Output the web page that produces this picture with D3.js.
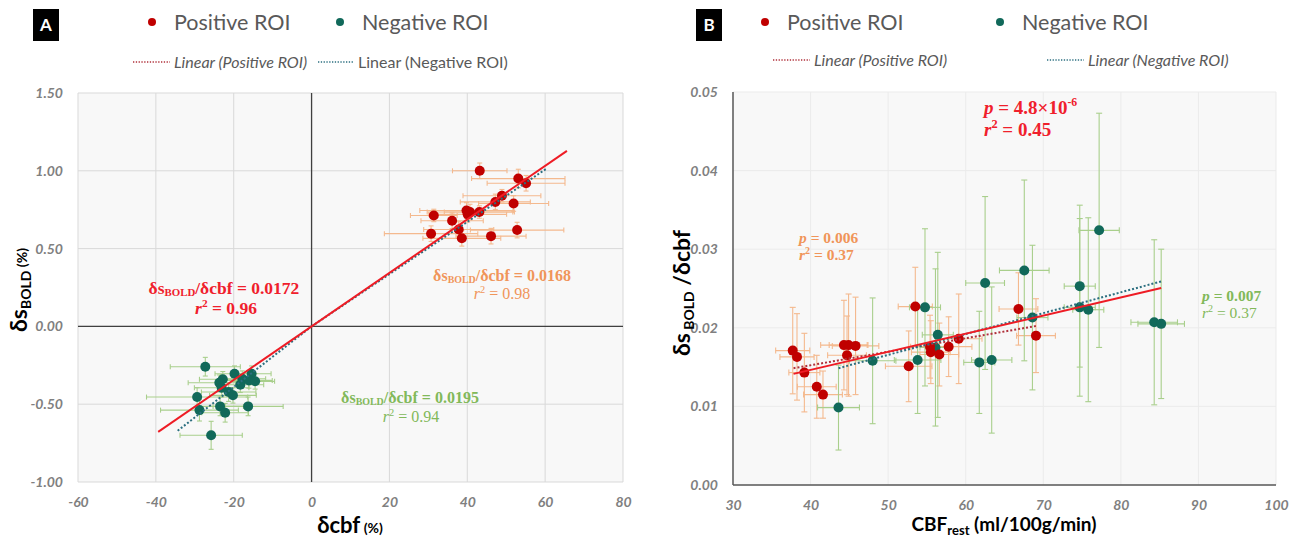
<!DOCTYPE html>
<html><head><meta charset="utf-8">
<script src="https://cdn.jsdelivr.net/npm/d3@7"></script>
<style>body{margin:0;background:#fff;} svg{display:block;}</style>
</head><body>
<svg id="c" width="1298" height="541"></svg>
<script>
// ---------- Panel A data ----------
const posA_x    = [43.2, 53.1, 55.1, 48.9, 47.2, 51.9, 39.8, 40.7, 43.1, 40.1, 31.4, 36.1, 37.8, 30.7, 52.8, 46.1, 38.6];
const posA_y    = [1.00, 0.95, 0.92, 0.84, 0.80, 0.79, 0.745, 0.735, 0.735, 0.72, 0.713, 0.679, 0.623, 0.596, 0.619, 0.58, 0.566];
const posA_xerr = [7, 12, 10, 10, 9, 9, 12, 11, 9, 10, 6, 8, 9, 12, 12, 9, 10];
const posA_yerr = [0.05, 0.06, 0.05, 0.04, 0.05, 0.05, 0.05, 0.05, 0.04, 0.05, 0.04, 0.05, 0.05, 0.05, 0.05, 0.05, 0.05];
const negA_x    = [-27.3, -19.8, -15.4, -22.8, -17.8, -16.1, -14.5, -23.7, -18.3, -23.1, -21.3, -20.2, -29.4, -28.8, -23.5, -16.3, -22.2, -25.8];
const negA_y    = [-0.259, -0.304, -0.304, -0.34, -0.336, -0.347, -0.353, -0.362, -0.375, -0.394, -0.422, -0.443, -0.454, -0.538, -0.514, -0.514, -0.555, -0.70];
const negA_xerr = [9, 5, 5, 6, 6, 6, 5, 8, 6, 7, 7, 6, 13, 10, 6, 9, 6, 8];
const negA_yerr = [0.06, 0.05, 0.05, 0.05, 0.05, 0.05, 0.05, 0.05, 0.05, 0.06, 0.06, 0.05, 0.06, 0.07, 0.06, 0.06, 0.06, 0.09];
const fitA_all = {slope: 0.0172, x0: -39.4, x1: 65.6};
const fitA_pos = {slope: 0.0168, x0: 0, x1: 60.4};
const fitA_neg = {slope: 0.0195, x0: -34.4, x1: 0};
const tickA_x = [-60, -40, -20, 0, 20, 40, 60, 80];
const tickA_y = [-1.0, -0.5, 0, 0.5, 1.0, 1.5];

// ---------- Panel B data ----------
const posB_x    = [37.7, 38.25, 39.2, 40.8, 41.6, 44.3, 44.9, 45.8, 44.7, 53.5, 52.65, 55.4, 55.5, 56.6, 57.8, 59.1, 66.8, 69.06];
const posB_y    = [0.0171, 0.0163, 0.0143, 0.0125, 0.0115, 0.0178, 0.0178, 0.0177, 0.0165, 0.0227, 0.0151, 0.0176, 0.0169, 0.0166, 0.0176, 0.0186, 0.0224, 0.0190];
const posB_xerr = [2.2, 2.2, 2.0, 2.5, 2.5, 3.0, 2.5, 3.0, 2.5, 2.2, 3.0, 2.5, 2.5, 2.5, 3.0, 3.0, 2.5, 2.5];
const posB_yerr = [0.0055, 0.0055, 0.0050, 0.0040, 0.0030, 0.0057, 0.0065, 0.0062, 0.0050, 0.0050, 0.0045, 0.0040, 0.0040, 0.0040, 0.0038, 0.0057, 0.0046, 0.0047];
const negB_x    = [43.6, 48.0, 53.8, 54.75, 56.4, 56.1, 61.75, 63.35, 62.5, 67.55, 68.6, 74.7, 74.7, 75.8, 77.2, 84.3, 85.2];
const negB_y    = [0.00985, 0.0158, 0.0159, 0.0226, 0.0191, 0.0175, 0.0156, 0.0159, 0.0257, 0.0273, 0.0213, 0.0253, 0.0226, 0.0223, 0.0324, 0.0207, 0.0205];
const negB_xerr = [2.7, 3.0, 3.0, 2.0, 2.0, 2.0, 2.0, 2.6, 2.5, 3.2, 2.0, 2.0, 2.0, 2.0, 2.6, 3.0, 3.0];
const negB_yerr = [0.0054, 0.0080, 0.0068, 0.0100, 0.0105, 0.0100, 0.0065, 0.0093, 0.0110, 0.0115, 0.0092, 0.0103, 0.0113, 0.0117, 0.0149, 0.0105, 0.0095];
const fitB_all = {x0: 37.8, y0: 0.01414, x1: 85.2, y1: 0.02506};
const fitB_pos = {x0: 37.8, y0: 0.01486, x1: 69.2, y1: 0.02025};
const fitB_neg = {x0: 43.6, y0: 0.01486, x1: 85.2, y1: 0.0259};
const tickB_x = [30, 40, 50, 60, 70, 80, 90, 100];
const tickB_y = [0, 0.01, 0.02, 0.03, 0.04, 0.05];

// ---------- colours ----------
const RED = "#c00000", GREEN = "#11695a", ORANGE_ERR = "#f4b98e", GREEN_ERR = "#a9cf8c";
const LINE_RED = "#ee1c25", DOT_RED = "#b0303a", DOT_GREEN = "#2c6f80";
const ANN_RED = "#f0202c", ANN_ORANGE = "#f0955a", ANN_GREEN = "#82b95a";
const TICK = "#808080";
const SANS = "Lato, 'Open Sans', sans-serif";
const SERIF = "'Liberation Serif', 'DejaVu Serif', serif";

const svg = d3.select("#c");

function zip(xs, ys, xe, ye){ return xs.map((x,i)=>({x, y:ys[i], xe:xe[i], ye:ye[i]})); }

function errorBars(g, data, x, y, color, cap){
  const eb = g.append("g").attr("stroke", color).attr("stroke-width", 1.1).attr("fill","none");
  data.forEach(d=>{
    eb.append("line").attr("x1", x(d.x-d.xe)).attr("x2", x(d.x+d.xe)).attr("y1", y(d.y)).attr("y2", y(d.y));
    eb.append("line").attr("x1", x(d.x-d.xe)).attr("x2", x(d.x-d.xe)).attr("y1", y(d.y)-cap).attr("y2", y(d.y)+cap);
    eb.append("line").attr("x1", x(d.x+d.xe)).attr("x2", x(d.x+d.xe)).attr("y1", y(d.y)-cap).attr("y2", y(d.y)+cap);
    eb.append("line").attr("x1", x(d.x)).attr("x2", x(d.x)).attr("y1", y(d.y-d.ye)).attr("y2", y(d.y+d.ye));
    eb.append("line").attr("x1", x(d.x)-cap).attr("x2", x(d.x)+cap).attr("y1", y(d.y-d.ye)).attr("y2", y(d.y-d.ye));
    eb.append("line").attr("x1", x(d.x)-cap).attr("x2", x(d.x)+cap).attr("y1", y(d.y+d.ye)).attr("y2", y(d.y+d.ye));
  });
}
function dots(g, data, x, y, color, r){
  g.append("g").selectAll("circle").data(data).join("circle")
    .attr("cx", d=>x(d.x)).attr("cy", d=>y(d.y)).attr("r", r).attr("fill", color);
}
function panelLabel(x, y, t){
  svg.append("rect").attr("x", x).attr("y", y).attr("width", 26).attr("height", 32).attr("fill", "#000");
  svg.append("text").attr("x", x+13).attr("y", y+22).attr("text-anchor","middle")
    .attr("font-family", SANS).attr("font-weight", 700).attr("font-size", 17).attr("fill","#fff").text(t);
}
function legendDot(x, y, color, label){
  svg.append("circle").attr("cx", x).attr("cy", y).attr("r", 4).attr("fill", color);
  svg.append("text").attr("x", x+22).attr("y", y+7.5).attr("font-family", SANS).attr("font-size", 21.5)
    .attr("fill", "#595959").text(label);
}
function legendLine(x, y, len, color, label, italic){
  svg.append("line").attr("x1", x).attr("x2", x+len).attr("y1", y).attr("y2", y)
    .attr("stroke", color).attr("stroke-width", 1.3).attr("stroke-dasharray", "1.3,1.5");
  svg.append("text").attr("x", x+len+4).attr("y", y+5.5).attr("font-family", SANS).attr("font-size", 16)
    .attr("font-style", italic ? "italic" : "normal").attr("fill", "#595959").text(label);
}
function ratioText(x, y, color, size, val){
  const t = svg.append("text").attr("x", x).attr("y", y).attr("text-anchor","middle")
    .attr("font-family", SERIF).attr("font-weight", 700).attr("font-size", size).attr("fill", color);
  t.append("tspan").text("δs");
  t.append("tspan").attr("font-size", size*0.62).attr("dy", 2).text("BOLD");
  t.append("tspan").attr("dy", -2).text("/δcbf = " + val);
}
function r2Text(x, y, color, size, val, anchor, bold){
  const t = svg.append("text").attr("x", x).attr("y", y).attr("text-anchor", anchor||"middle")
    .attr("font-family", SERIF).attr("font-weight", bold?700:400).attr("font-size", size).attr("fill", color);
  t.append("tspan").attr("font-style","italic").text("r");
  t.append("tspan").attr("font-size", size*0.65).attr("dy", -size*0.4).text("2");
  t.append("tspan").attr("dy", size*0.4).text(" = " + val);
}

// =============== PANEL A =================
const xA = d3.scaleLinear().domain([-60, 80]).range([78, 623]);
const yA = d3.scaleLinear().domain([-1, 1.5]).range([482, 93]);
const gA = svg.append("g");
gA.append("rect").attr("x", xA(-60)).attr("y", yA(1.5)).attr("width", xA(80)-xA(-60)).attr("height", yA(-1)-yA(1.5)).attr("fill", "#f8f8f8");
gA.append("g").selectAll("line").data(tickA_x).join("line")
  .attr("x1", d=>xA(d)).attr("x2", d=>xA(d)).attr("y1", yA(1.5)).attr("y2", yA(-1)).attr("stroke", "#d9d9d9").attr("stroke-width", 1);
gA.append("g").selectAll("line").data(tickA_y).join("line")
  .attr("x1", xA(-60)).attr("x2", xA(80)).attr("y1", d=>yA(d)).attr("y2", d=>yA(d)).attr("stroke", "#d9d9d9").attr("stroke-width", 1);
gA.append("line").attr("x1", xA(0)).attr("x2", xA(0)).attr("y1", yA(1.5)).attr("y2", yA(-1)).attr("stroke", "#404040").attr("stroke-width", 1.3);
gA.append("line").attr("x1", xA(-60)).attr("x2", xA(80)).attr("y1", yA(0)).attr("y2", yA(0)).attr("stroke", "#404040").attr("stroke-width", 1.3);

const posA = zip(posA_x, posA_y, posA_xerr, posA_yerr);
const negA = zip(negA_x, negA_y, negA_xerr, negA_yerr);
errorBars(gA, negA, xA, yA, GREEN_ERR, 2.5);
errorBars(gA, posA, xA, yA, ORANGE_ERR, 2.5);
dots(gA, negA, xA, yA, GREEN, 5);
dots(gA, posA, xA, yA, RED, 5);
gA.append("line").attr("x1", xA(fitA_neg.x0)).attr("y1", yA(fitA_neg.slope*fitA_neg.x0)).attr("x2", xA(fitA_neg.x1)).attr("y2", yA(fitA_neg.slope*fitA_neg.x1))
  .attr("stroke", DOT_GREEN).attr("stroke-width", 2).attr("stroke-dasharray", "2,2");
gA.append("line").attr("x1", xA(fitA_pos.x0)).attr("y1", yA(fitA_pos.slope*fitA_pos.x0)).attr("x2", xA(fitA_pos.x1)).attr("y2", yA(fitA_pos.slope*fitA_pos.x1))
  .attr("stroke", DOT_GREEN).attr("stroke-width", 2).attr("stroke-dasharray", "2,2");
gA.append("line").attr("x1", xA(fitA_all.x0)).attr("y1", yA(fitA_all.slope*fitA_all.x0)).attr("x2", xA(fitA_all.x1)).attr("y2", yA(fitA_all.slope*fitA_all.x1))
  .attr("stroke", LINE_RED).attr("stroke-width", 2);

const axYA = gA.append("g").attr("transform", `translate(${xA(-60)-12},0)`)
  .call(d3.axisLeft(yA).tickValues(tickA_y).tickSize(0).tickFormat(d=>d3.format(".2f")(d).replace("−","-")));
const axXA = gA.append("g").attr("transform", `translate(0,${yA(-1)+12})`)
  .call(d3.axisBottom(xA).tickValues(tickA_x).tickSize(0).tickFormat(d=>String(d)));
[axYA, axXA].forEach(a=>{
  a.select(".domain").remove();
  a.selectAll("text").attr("font-family", SANS).attr("font-size", 14).attr("font-weight", 700)
    .attr("font-style", "italic").attr("fill", TICK);
});

{
  const t = svg.append("text").attr("transform", `translate(27,290) rotate(-90)`).attr("text-anchor","middle")
    .attr("font-family", SANS).attr("font-weight", 700).attr("fill", "#000");
  t.append("tspan").attr("font-size", 23).text("δs");
  t.append("tspan").attr("font-size", 14).attr("dy", 4).text("BOLD");
  t.append("tspan").attr("font-size", 14).attr("dy", -4).text(" (%)");
  const u = svg.append("text").attr("x", 350).attr("y", 533).attr("text-anchor","middle")
    .attr("font-family", SANS).attr("font-weight", 700).attr("fill", "#000");
  u.append("tspan").attr("font-size", 22).text("δcbf");
  u.append("tspan").attr("font-size", 14).text(" (%)");
}
ratioText(224, 294, ANN_RED, 17.5, "0.0172");
r2Text(226, 314, ANN_RED, 17.5, "0.96", "middle", true);
ratioText(502, 281, ANN_ORANGE, 16, "0.0168");
r2Text(502, 299, ANN_ORANGE, 16, "0.98", "middle", false);
ratioText(410, 403, ANN_GREEN, 16, "0.0195");
r2Text(411, 422, ANN_GREEN, 16, "0.94", "middle", false);

panelLabel(33, 9, "A");
legendDot(152, 22, RED, "Positive ROI");
legendDot(340, 22, GREEN, "Negative ROI");
legendLine(133, 62, 37, DOT_RED, "Linear (Positive ROI)", true);
legendLine(318, 62, 36, DOT_GREEN, "Linear (Negative ROI)", false);

// =============== PANEL B =================
const xB = d3.scaleLinear().domain([30, 100]).range([733, 1276]);
const yB = d3.scaleLinear().domain([0, 0.05]).range([485, 92]);
const gB = svg.append("g");
gB.append("rect").attr("x", xB(30)).attr("y", yB(0.05)).attr("width", xB(100)-xB(30)).attr("height", yB(0)-yB(0.05)).attr("fill", "#f8f8f8");
gB.append("g").selectAll("line").data(tickB_x).join("line")
  .attr("x1", d=>xB(d)).attr("x2", d=>xB(d)).attr("y1", yB(0.05)).attr("y2", yB(0)).attr("stroke", "#ebebeb").attr("stroke-width", 1);
gB.append("g").selectAll("line").data(tickB_y).join("line")
  .attr("x1", xB(30)).attr("x2", xB(100)).attr("y1", d=>yB(d)).attr("y2", d=>yB(d)).attr("stroke", "#ebebeb").attr("stroke-width", 1);

const posB = zip(posB_x, posB_y, posB_xerr, posB_yerr);
const negB = zip(negB_x, negB_y, negB_xerr, negB_yerr);
errorBars(gB, posB, xB, yB, ORANGE_ERR, 3);
errorBars(gB, negB, xB, yB, GREEN_ERR, 3);
dots(gB, negB, xB, yB, GREEN, 5);
dots(gB, posB, xB, yB, RED, 5);
gB.append("line").attr("x1", xB(fitB_pos.x0)).attr("y1", yB(fitB_pos.y0)).attr("x2", xB(fitB_pos.x1)).attr("y2", yB(fitB_pos.y1))
  .attr("stroke", DOT_RED).attr("stroke-width", 2).attr("stroke-dasharray", "2,2");
gB.append("line").attr("x1", xB(fitB_neg.x0)).attr("y1", yB(fitB_neg.y0)).attr("x2", xB(fitB_neg.x1)).attr("y2", yB(fitB_neg.y1))
  .attr("stroke", DOT_GREEN).attr("stroke-width", 2).attr("stroke-dasharray", "2,2");
gB.append("line").attr("x1", xB(fitB_all.x0)).attr("y1", yB(fitB_all.y0)).attr("x2", xB(fitB_all.x1)).attr("y2", yB(fitB_all.y1))
  .attr("stroke", LINE_RED).attr("stroke-width", 2);

gB.append("line").attr("x1", xB(30)).attr("x2", xB(30)).attr("y1", yB(0.05)).attr("y2", yB(0)).attr("stroke", "#595959").attr("stroke-width", 1.5);
gB.append("line").attr("x1", xB(30)).attr("x2", xB(100)).attr("y1", yB(0)).attr("y2", yB(0)).attr("stroke", "#595959").attr("stroke-width", 1.5);

const axYB = gB.append("g").attr("transform", `translate(${xB(30)-12},0)`)
  .call(d3.axisLeft(yB).tickValues(tickB_y).tickSize(0).tickFormat(d3.format(".2f")));
const axXB = gB.append("g").attr("transform", `translate(0,${yB(0)+12})`)
  .call(d3.axisBottom(xB).tickValues(tickB_x).tickSize(0).tickFormat(d=>String(d)));
[axYB, axXB].forEach(a=>{
  a.select(".domain").remove();
  a.selectAll("text").attr("font-family", SANS).attr("font-size", 14).attr("font-weight", 700)
    .attr("font-style", "italic").attr("fill", TICK);
});
{
  const t = svg.append("text").attr("transform", `translate(690,293) rotate(-90)`).attr("text-anchor","middle")
    .attr("font-family", SANS).attr("font-weight", 700).attr("fill", "#000");
  t.append("tspan").attr("font-size", 23).text("δs");
  t.append("tspan").attr("font-size", 14).attr("dy", 4).text(" BOLD");
  t.append("tspan").attr("font-size", 23).attr("dy", -4).text(" /δcbf");
  const u = svg.append("text").attr("x", 1004).attr("y", 531).attr("text-anchor","middle")
    .attr("font-family", SANS).attr("font-weight", 700).attr("fill", "#000");
  u.append("tspan").attr("font-size", 19).text("CBF");
  u.append("tspan").attr("font-size", 13).attr("dy", 4).text("rest");
  u.append("tspan").attr("font-size", 19).attr("dy", -4).text(" (ml/100g/min)");
}
function pText(x, y, color, size, val, sup){
  const t = svg.append("text").attr("x", x).attr("y", y).attr("font-family", SERIF)
    .attr("font-weight", 700).attr("font-size", size).attr("fill", color);
  t.append("tspan").attr("font-style","italic").text("p");
  t.append("tspan").text(" = " + val);
  if (sup) t.append("tspan").attr("font-size", size*0.62).attr("dy", -size*0.42).text(sup);
}
pText(984, 114, ANN_RED, 19, "4.8×10", "-6");
r2Text(984, 136, ANN_RED, 19, "0.45", "start", true);
pText(799, 243, ANN_ORANGE, 15.5, "0.006");
r2Text(799, 260, ANN_ORANGE, 15.5, "0.37", "start", true);
pText(1202, 301, ANN_GREEN, 15.5, "0.007");
r2Text(1202, 318, ANN_GREEN, 15.5, "0.37", "start", false);

panelLabel(696, 9, "B");
legendDot(765, 22, RED, "Positive ROI");
legendDot(1000, 22, GREEN, "Negative ROI");
legendLine(773, 60, 37, DOT_RED, "Linear (Positive ROI)", true);
legendLine(1047, 60, 37, DOT_GREEN, "Linear (Negative ROI)", true);
</script>
</body></html>
